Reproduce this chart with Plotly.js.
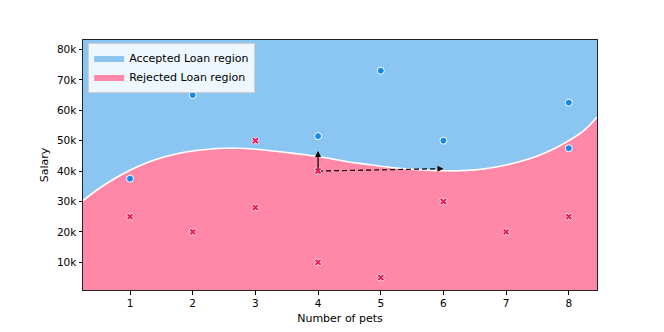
<!DOCTYPE html>
<html>
<head>
<meta charset="utf-8">
<script src="https://cdn.plot.ly/plotly-3.0.1.min.js"></script>
<style>html,body{margin:0;padding:0;background:#fff;}#chart{width:664px;height:332px;}</style>
</head>
<body>
<div id="chart"></div>
<script>
// Decision boundary
const boundaryX = [0.25, 0.5, 0.75, 1.0, 1.25, 1.5, 1.75, 2.0, 2.25, 2.5, 2.75, 3.0, 3.25, 3.5, 3.75, 4.0, 4.25, 4.5, 4.75, 5.0, 5.25, 5.5, 5.75, 6.0, 6.25, 6.5, 6.75, 7.0, 7.25, 7.5, 7.75, 8.0, 8.25, 8.45];
const boundaryY = [30300, 34200, 37500, 40300, 42600, 44400, 45700, 46600, 47200, 47500, 47500, 47200, 46700, 46100, 45500, 44800, 43900, 43000, 42300, 41600, 41000, 40600, 40300, 40100, 40100, 40400, 41000, 42000, 43300, 45000, 47200, 50000, 53500, 57800];
const regionTop = 90000;

// Accepted applicants
const acceptedPets = [1, 2, 4, 5, 6, 8, 8];
const acceptedSalary = [37500, 65000, 51500, 73000, 50000, 62500, 47500];

// Rejected applicants
const rejectedPets = [1, 2, 3, 3, 4, 4, 5, 6, 7, 8];
const rejectedSalary = [25000, 20000, 28000, 50000, 40000, 10000, 5000, 30000, 20000, 25000];

// Arrows
const arrowOrigin = [4, 40000];
const arrowUpTip = [4, 46600];
const arrowRightTip = [6, 40800];

const xTicks = [1, 2, 3, 4, 5, 6, 7, 8];
const yTicks = [10000, 20000, 30000, 40000, 50000, 60000, 70000, 80000];
const yTickLabels = ['10k', '20k', '30k', '40k', '50k', '60k', '70k', '80k'];

const fillBlue = '#8BC5F1';
const fillPink = '#FF88A8';
const ptBlue = '#118AEA';
const ptPink = '#F0185A';

const traces = [
  {x: boundaryX, y: boundaryY, type: 'scatter', mode: 'lines', line: {width: 0, color: fillPink},
   fill: 'tozeroy', fillcolor: fillPink, name: 'Rejected Loan region', legendrank: 2, hoverinfo: 'skip'},
  {x: boundaryX, y: boundaryX.map(() => regionTop), type: 'scatter', mode: 'lines', line: {width: 0, color: fillBlue},
   fill: 'tonexty', fillcolor: fillBlue, name: 'Accepted Loan region', legendrank: 1, hoverinfo: 'skip'},
  {x: boundaryX, y: boundaryY, type: 'scatter', mode: 'lines', line: {width: 1.6, color: '#ffffff', shape: 'spline'},
   showlegend: false, hoverinfo: 'skip'},
  {x: [arrowOrigin[0], arrowRightTip[0] - 0.08], y: [arrowOrigin[1], arrowRightTip[1] - 30], type: 'scatter', mode: 'lines',
   line: {width: 1.2, color: '#000', dash: '5px,3px'}, showlegend: false, hoverinfo: 'skip'},
  {x: acceptedPets, y: acceptedSalary, type: 'scatter', mode: 'markers', showlegend: false,
   marker: {symbol: 'circle', size: 7, color: ptBlue, line: {color: '#fff', width: 1}}},
  {x: rejectedPets, y: rejectedSalary, type: 'scatter', mode: 'markers', showlegend: false,
   marker: {symbol: 'x', size: 6.5, color: ptPink, line: {color: '#fff', width: 0.8}}}
];

const layout = {
  width: 664, height: 332,
  margin: {l: 83, r: 67, t: 40, b: 42},
  paper_bgcolor: '#fff', plot_bgcolor: '#fff',
  font: {family: 'DejaVu Sans', size: 10, color: '#000'},
  showlegend: true,
  legend: {x: 0.01, y: 0.99, xanchor: 'left', yanchor: 'top', bgcolor: 'rgba(255,255,255,0.85)',
           bordercolor: '#d0d0d0', borderwidth: 1, font: {size: 11}, tracegroupgap: 0, traceorder: 'normal'},
  xaxis: {range: [0.25, 8.45], tickvals: xTicks, ticks: 'outside', ticklen: 3.5, tickcolor: '#000',
          showline: true, mirror: true, linecolor: '#222', linewidth: 1, showgrid: false, zeroline: false,
          title: {text: 'Number of pets', standoff: 6, font: {size: 11}}, tickfont: {size: 10.5}},
  yaxis: {range: [900, 83100], tickvals: yTicks, ticktext: yTickLabels, ticks: 'outside', ticklen: 3.5, tickcolor: '#000',
          showline: true, mirror: true, linecolor: '#222', linewidth: 1, showgrid: false, zeroline: false,
          title: {text: 'Salary', standoff: 6, font: {size: 11}}, tickfont: {size: 10.5}},
  annotations: [
    {x: arrowUpTip[0], y: arrowUpTip[1], ax: arrowOrigin[0], ay: arrowOrigin[1], xref: 'x', yref: 'y', axref: 'x', ayref: 'y',
     text: '', showarrow: true, arrowhead: 2, arrowsize: 1, arrowwidth: 1.2, arrowcolor: '#000'},
    {x: arrowRightTip[0], y: arrowRightTip[1], ax: arrowRightTip[0] - 0.1, ay: arrowRightTip[1] - 40, xref: 'x', yref: 'y', axref: 'x', ayref: 'y',
     text: '', showarrow: true, arrowhead: 2, arrowsize: 1, arrowwidth: 1.2, arrowcolor: '#000'}
  ]
};

Plotly.newPlot('chart', traces, layout, {displayModeBar: false, staticPlot: true});
</script>
</body>
</html>
